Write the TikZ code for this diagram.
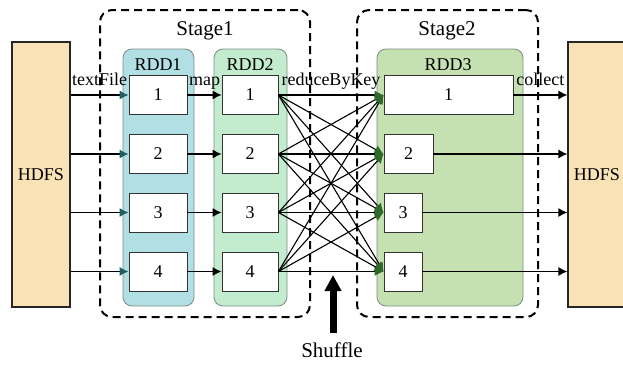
\documentclass[tikz,border=0pt]{standalone}
\usepackage{fontspec}
\setmainfont{Liberation Serif}
\usetikzlibrary{arrows.meta,positioning}
\definecolor{hdfsfill}{HTML}{F9E2B5}
\definecolor{rddone}{HTML}{B2DFE4}
\definecolor{rddtwo}{HTML}{C3ECCF}
\definecolor{rddthree}{HTML}{C5E1B1}
\definecolor{rddline}{HTML}{7A8C86}
\definecolor{tealtip}{HTML}{1F5F63}
\definecolor{greentip}{HTML}{2F6A2A}
\tikzset{
  lbl/.style = {inner sep=0pt, font=\fontsize{18}{20}\selectfont},
  biglbl/.style = {inner sep=0pt, font=\fontsize{21}{24}\selectfont},
  hdfs/.style = {lbl, rectangle, draw=black!85, line width=1.2pt,
    fill=hdfsfill, minimum width=58pt, minimum height=265pt},% source / sink
  stagebox/.style = {rectangle, draw=black, line width=2pt,
    dash pattern=on 8pt off 5pt, rounded corners=12pt},% stage frame
  rddbox/.style = {rectangle, draw=rddline, line width=0.8pt,
    rounded corners=9pt, minimum height=257pt},% rdd
  part/.style = {lbl, rectangle, draw=black!80, fill=white,
    line width=0.8pt, minimum height=39pt},% partition
  flow/.style = {->, line width=1.2pt},
  inflow/.style = {line width=1.2pt, -{Latex[length=9pt,width=9pt,color=tealtip]}},
  fanflow/.style = {line width=1.1pt, -{Latex[length=9pt,width=9pt,color=greentip]}},
  elabel/.style = {lbl, anchor=base, yshift=10pt}
}

\begin{document}
\begin{tikzpicture}[x=1pt,y=-1pt,>={Latex[length=9pt,width=9pt]}]
\useasboundingbox (0,0) rectangle (623,364);

\node [stagebox, minimum width=210pt, minimum height=307pt](stage1) at (205,163.5) {};
\node [stagebox, minimum width=181pt, minimum height=307pt](stage2) at (447.5,163.5) {};
\node [biglbl, anchor=base](s1) at (205,35) {Stage1};
\node [biglbl, anchor=base](s2) at (447,35) {Stage2};

\node [hdfs](hdfsL) at (41,174.5) {HDFS};
\node [hdfs](hdfsR) at (597,174.5) {HDFS};

\node [rddbox, fill=rddone, minimum width=71pt](rdd1) at (158.5,177.5) {};
\node [rddbox, fill=rddtwo, minimum width=73pt](rdd2) at (250.5,177.5) {};
\node [rddbox, fill=rddthree, minimum width=146pt](rdd3) at (450,177.5) {};
\node [lbl](r1) at (158,65) {RDD1};
\node [lbl](r2) at (250,65) {RDD2};
\node [lbl](r3) at (448,65) {RDD3};

\node [part, minimum width=58pt](a1) at (158,95) {1};
\node [part, minimum width=58pt](a2) at (158,154) {2};
\node [part, minimum width=58pt](a3) at (158,212.5) {3};
\node [part, minimum width=58pt](a4) at (158,271.5) {4};

\node [part, minimum width=56pt](b1) at (250,95) {1};
\node [part, minimum width=56pt](b2) at (250,154) {2};
\node [part, minimum width=56pt](b3) at (250,212.5) {3};
\node [part, minimum width=56pt](b4) at (250,271.5) {4};

\node [part, minimum width=129pt](c1) at (448.5,95) {1};
\node [part, minimum width=49pt](c2) at (408.5,154) {2};
\node [part, minimum width=38pt](c3) at (403,212.5) {3};
\node [part, minimum width=38pt](c4) at (403,271.5) {4};

\draw [inflow] (hdfsL.east |- a1.west) -- node[elabel]{textFile} (a1.west);
\draw [inflow] (hdfsL.east |- a2.west) -- (a2.west);
\draw [inflow] (hdfsL.east |- a3.west) -- (a3.west);
\draw [inflow] (hdfsL.east |- a4.west) -- (a4.west);

\draw [flow] (a1.east) -- node[elabel]{map} (b1.west);
\draw [flow] (a2.east) -- (b2.west);
\draw [flow] (a3.east) -- (b3.west);
\draw [flow] (a4.east) -- (b4.west);

\foreach \i in {1,...,4}
  \foreach \j in {1,...,4}
    \draw [fanflow] (b\i.east) -- (c\j.west);
\path (b1.east) -- node[elabel]{reduceByKey} (c1.west);

\draw [flow] (c1.east) -- node[elabel]{collect} (hdfsR.west |- c1.east);
\draw [flow] (c2.east) -- (hdfsR.west |- c2.east);
\draw [flow] (c3.east) -- (hdfsR.west |- c3.east);
\draw [flow] (c4.east) -- (hdfsR.west |- c4.east);

\coordinate (shuftip) at (333,275);
\node [biglbl](shuf) at (332,350) {Shuffle};
\draw [line width=7pt, -{Triangle[length=16pt,width=16pt]}, shorten <=9pt]
  (shuf.north -| shuftip) -- (shuftip);
\end{tikzpicture}
\end{document}
